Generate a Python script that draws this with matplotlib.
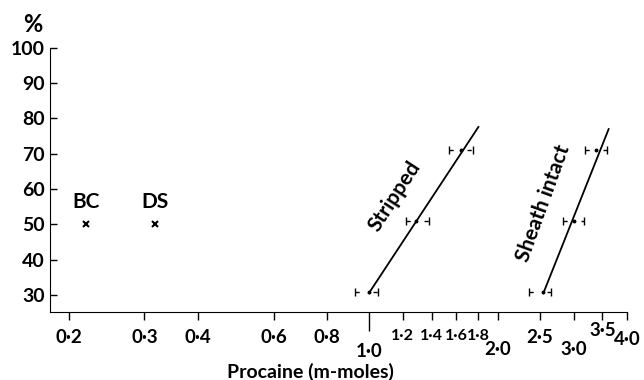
import matplotlib
matplotlib.use("Agg")
import matplotlib.pyplot as plt
import numpy as np

plt.rcParams['font.family'] = ['Lato', 'DejaVu Sans']
plt.rcParams['font.weight'] = 'bold'

# data
stripped_x = [1.0, 1.29, 1.64]
stripped_lo = [0.93, 1.22, 1.54]
stripped_hi = [1.05, 1.38, 1.75]
stripped_y = [31, 51, 71]
stripped_line_x = [1.0, 1.80]
stripped_line_y = [30.5, 77.6]

sheath_x = [2.54, 3.0, 3.39]
sheath_lo = [2.36, 2.83, 3.19]
sheath_hi = [2.66, 3.17, 3.59]
sheath_y = [31, 51, 71]
sheath_line_x = [2.55, 3.62]
sheath_line_y = [30.5, 77.0]

single_x = [0.219, 0.317]
single_y = [50, 50]
single_lab = ['BC', 'DS']

xticks = [0.2, 0.3, 0.4, 0.6, 0.8, 1.0, 1.2, 1.4, 1.6, 1.8, 2.0, 2.5, 3.0, 3.5, 4.0]
xlabels = ['0·2', '0·3', '0·4', '0·6', '0·8', '1·0', '1·2', '1·4', '1·6', '1·8',
           '2·0', '2·5', '3·0', '3·5', '4·0']
xpads = [6, 6, 6, 6, 6, 16, 6, 6, 6, 6, 15, 6, 15, 1, 8]
yticks = [30, 40, 50, 60, 70, 80, 90, 100]

fig = plt.figure(figsize=(6.44, 3.80), dpi=100)
ax = fig.add_axes([0.078, 0.179, 0.896, 0.695])
ax.set_xscale('log')
ax.set_xlim(0.181, 4.0)
ax.set_ylim(25.2, 100)

for xs, lo, hi, ys, lx, ly in [(stripped_x, stripped_lo, stripped_hi, stripped_y, stripped_line_x, stripped_line_y),
                               (sheath_x, sheath_lo, sheath_hi, sheath_y, sheath_line_x, sheath_line_y)]:
    ax.plot(lx, ly, color='black', lw=1.3)
    err = [np.array(xs) - np.array(lo), np.array(hi) - np.array(xs)]
    eb = ax.errorbar(xs, ys, xerr=err, fmt='o', ms=1.8, color='black',
                     ecolor='black', elinewidth=1, capsize=3, capthick=1)
    eb[2][0].set_linestyle((0, (3, 10)))

ax.plot(single_x, single_y, 'x', color='black', ms=5, mew=1.5)
for x, y, t in zip(single_x, single_y, single_lab):
    ax.text(x, y + 3.5, t, ha='center', va='bottom', fontsize=15)

ax.text(1.15, 58, 'Stripped', rotation=57, ha='center', va='center', fontsize=15)
ax.text(2.55, 56, 'Sheath intact', rotation=70, ha='center', va='center', fontsize=15)

ax.spines['top'].set_visible(False)
ax.spines['right'].set_visible(False)
ax.spines['left'].set_bounds(25.2, 100)

ax.set_xticks(xticks)
ax.set_xticklabels(xlabels, fontsize=13.5)
ax.set_xticks([], minor=True)
for tick, p in zip(ax.xaxis.get_major_ticks(), xpads):
    tick.set_pad(p)
# the crowded labels between 1.2 and 1.8
for lab in ax.get_xticklabels()[6:10]:
    lab.set_fontsize(11.5)
ax.tick_params(axis='x', direction='out', length=6, width=1)
ax.xaxis.get_major_ticks()[5].tick1line.set_markersize(14)

ax.set_yticks(yticks)
ax.set_yticklabels([str(v) for v in yticks], fontsize=14)
ax.tick_params(axis='y', direction='in', length=5, width=1, pad=4)

fig.text(0.051, 0.935, '%', fontsize=17, ha='center', va='center')
fig.text(0.482, 0.022, 'Procaine (m-moles)', fontsize=14, ha='center', va='center')

fig.savefig('out.png', dpi=100)
